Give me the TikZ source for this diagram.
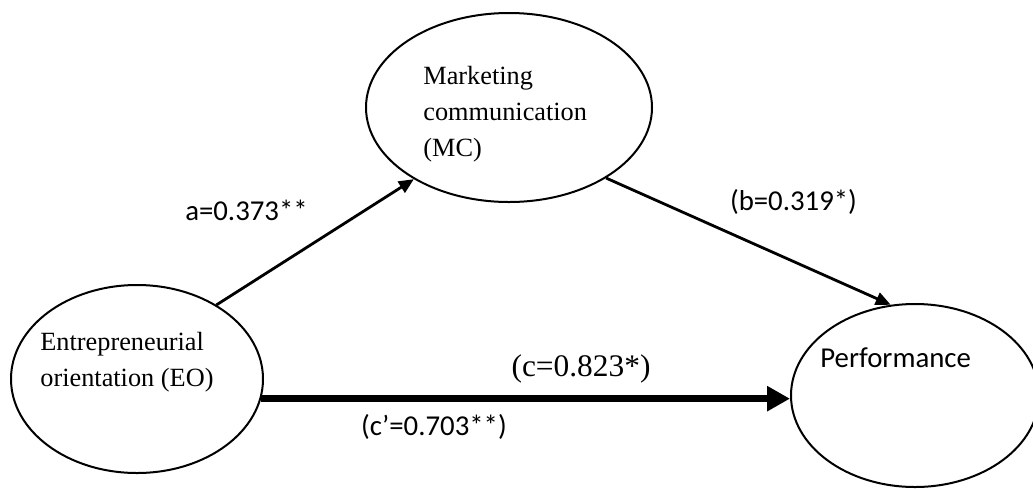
\documentclass[tikz,border=0pt]{standalone}
\usepackage{fontspec}
\setmainfont{Liberation Serif}
\newfontfamily\calibri{Carlito}
\usepackage{tikz}
\usetikzlibrary{positioning,arrows.meta,shapes.geometric}
\tikzset{
  var/.style={draw, ellipse, line width=1pt, inner sep=0pt},
  vtxt/.style={anchor=west, align=left, inner sep=0pt, font=\fontsize{13.15}{18}\selectfont},
  coef/.style={inner sep=0pt, font=\calibri\fontsize{14.4}{16}\selectfont},
  ar/.style={-{Triangle[length=7.5pt,width=6.5pt]}, line width=1.4pt},
  arthick/.style={-{Triangle[length=11.5pt,width=12pt]}, line width=3.5pt},
}

\begin{document}
\begin{tikzpicture}[x=0.5pt,y=-0.5pt]
\useasboundingbox (0,0) rectangle (1033,488);
% variables
\node[var, minimum width=126pt, minimum height=94pt] (eo) at (137,379) {};
\node[var, minimum width=143pt, minimum height=94.5pt] (mc) at (509,107.5) {};
\node[var, minimum width=124pt, minimum height=91.5pt] (perf) at (915,395.5) {};
\node[vtxt] (eotxt) at (40,362.5) {Entrepreneurial\\orientation (EO)};
\node[vtxt] (mctxt) at (423,114) {Marketing\\communication\\(MC)};
\node[coef, anchor=west] (perftxt) at (820,358) {Performance};

% paths
\draw[ar] (eo.43.5) -- (mc.217.8);
\draw[ar] (mc.-36) -- (perf.105);
\draw[arthick] (eo.-9) -- (eo.-9 -| perf.west);
\node[coef] (la) at (246.5,210) {a=0.373**};
\node[coef] (lb) at (793.5,202) {(b=0.319*)};
\node[inner sep=0pt, font=\fontsize{15.7}{18}\selectfont] (lc) at (581,369) {(c=0.823*)};
\node[coef] (lcp) at (434,427) {(c’=0.703**)};
\end{tikzpicture}
\end{document}
